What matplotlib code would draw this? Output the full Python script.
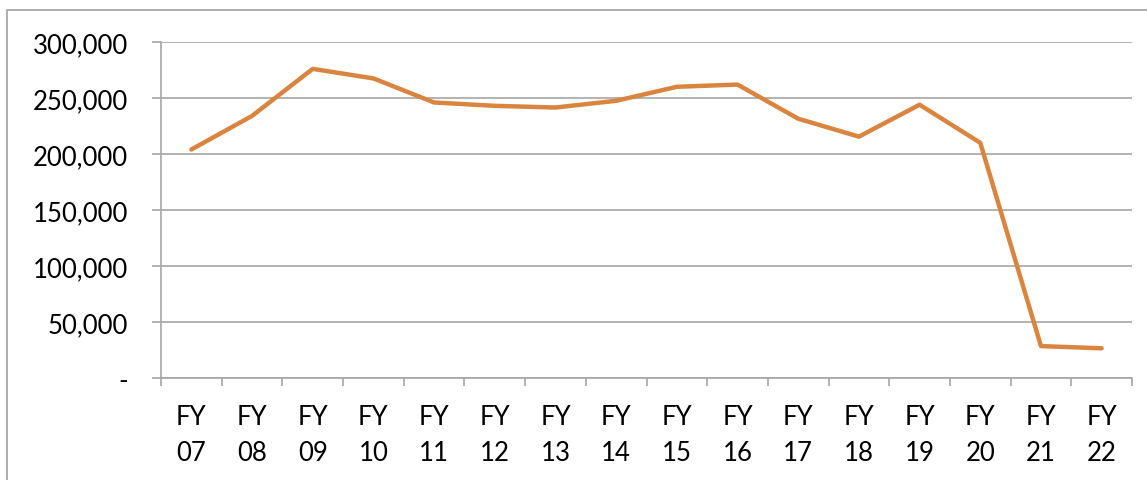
import numpy as np
import matplotlib
matplotlib.use('Agg')
import matplotlib.pyplot as plt
from matplotlib.ticker import FuncFormatter, FixedLocator
from matplotlib.patches import Rectangle

# data
years = ['07', '08', '09', '10', '11', '12', '13', '14',
         '15', '16', '17', '18', '19', '20', '21', '22']
values = [204000, 234000, 276000, 267500, 246000, 243000, 241500, 247500,
          260000, 262000, 231500, 215500, 244000, 210000, 28500, 26500]

labels = ['FY\n' + y for y in years]

plt.rcParams['font.family'] = ['Lato', 'DejaVu Sans']

fig = plt.figure(figsize=(11.47, 4.81), dpi=100)
ax = fig.add_axes([161 / 1147, 1 - 379 / 481, (1132 - 161) / 1147, (379 - 43) / 481])

grey = '#a6a6a6'
x = np.arange(len(years))
ax.plot(x, values, color='#d9843f', linewidth=3.2, solid_capstyle='round', zorder=3)

ax.set_xlim(-0.5, len(years) - 0.5)
ax.set_ylim(0, 300000)
ax.set_yticks(np.arange(0, 300001, 50000))
ax.yaxis.set_major_formatter(FuncFormatter(lambda v, p: '-' if v == 0 else f'{int(v):,}'))
ax.grid(axis='y', color=grey, linewidth=1.2)

# category boundaries get the tick marks, labels sit in the middle
ax.xaxis.set_major_locator(FixedLocator(np.arange(-0.5, len(years), 1.0)))
ax.xaxis.set_major_formatter(FuncFormatter(lambda v, p: ''))
ax.xaxis.set_minor_locator(FixedLocator(x))
ax.set_xticklabels(labels, minor=True)

ax.tick_params(axis='x', which='major', direction='out', length=6, width=1.2, color=grey)
ax.tick_params(axis='x', which='minor', length=0, pad=19, labelsize=18.5, labelcolor='#000000')
ax.tick_params(axis='y', direction='out', length=6.5, width=1.2, color=grey, pad=17,
               labelsize=18.5, labelcolor='#000000')
for t in ax.get_xticklabels(minor=True):
    t.set_linespacing(1.55)

for side in ['top', 'right']:
    ax.spines[side].set_visible(False)
for side in ['left', 'bottom']:
    ax.spines[side].set_color(grey)
    ax.spines[side].set_linewidth(1.2)

# chart area border (cut off at right and bottom)
fig.add_artist(Rectangle((7 / 1147, -0.1), 1.2, 1.1 - 11 / 481, transform=fig.transFigure,
                         fill=False, edgecolor='#a0a0a0', linewidth=1.2))

fig.savefig('out.png', dpi=100)
